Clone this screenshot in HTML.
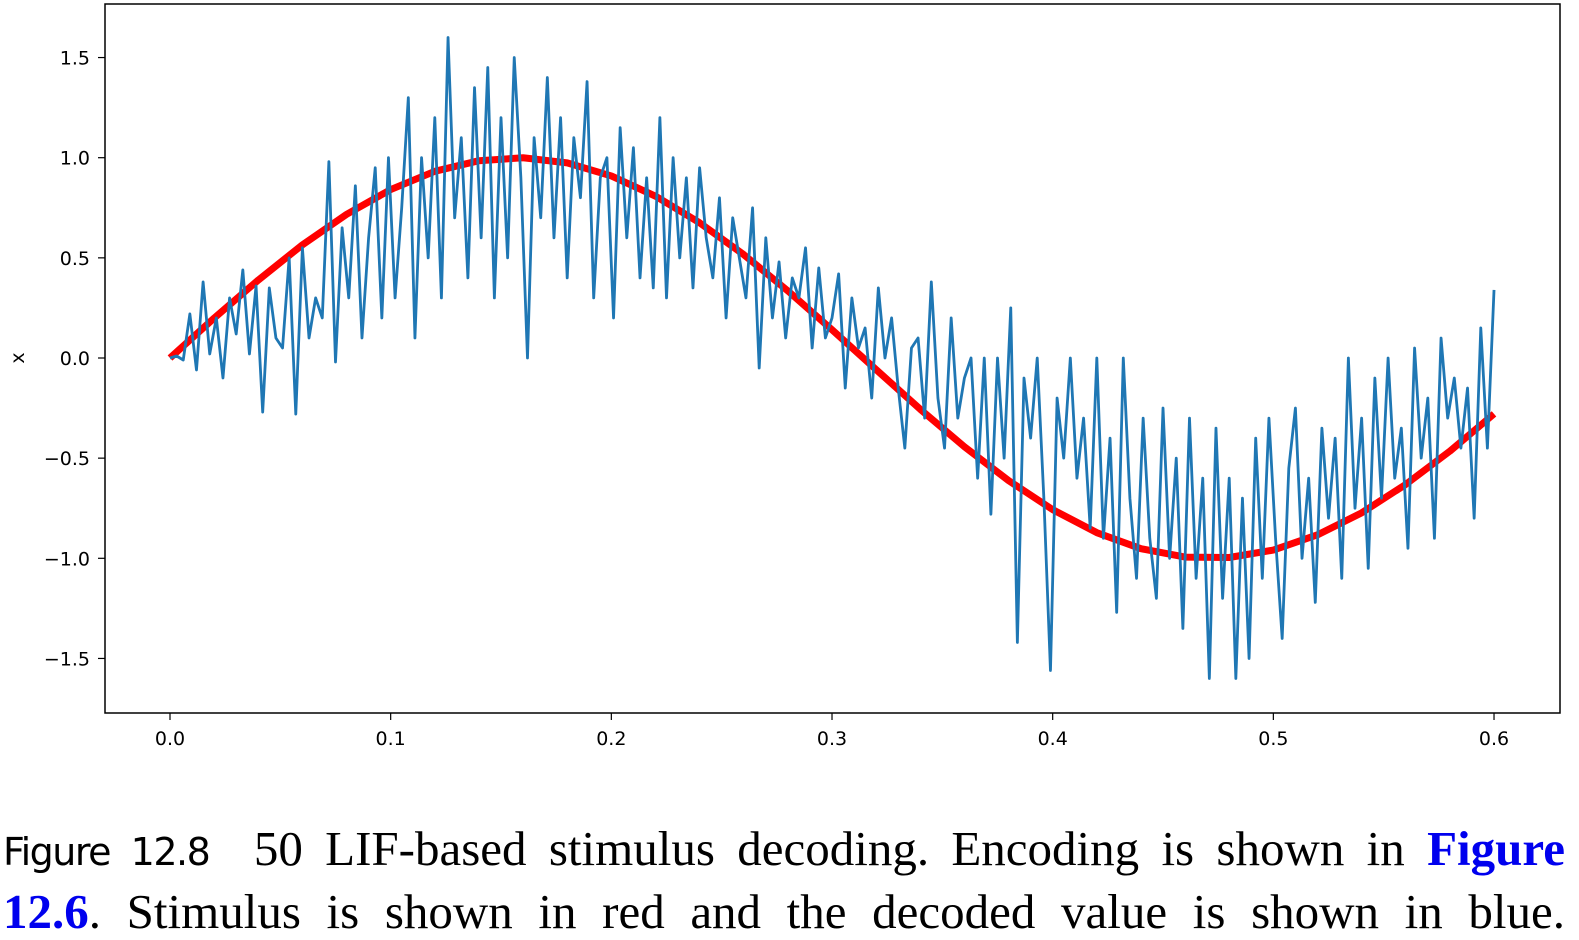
<!DOCTYPE html>
<html><head><meta charset="utf-8"><style>
body{margin:0;background:#fff;width:1579px;height:940px;overflow:hidden;position:relative}
svg{position:absolute;left:0;top:0}
.cap{position:absolute;left:3px;width:1562px;font-family:"Liberation Serif",serif;font-size:49px;color:#000;white-space:nowrap;text-align:justify;text-align-last:justify;line-height:1}
.fig{font-family:"DejaVu Sans","Liberation Sans",sans-serif;font-size:38px;letter-spacing:-1.5px}
.blue{color:#0000ee;font-weight:bold}
</style></head><body>
<svg id="chart" width="1579" height="790"></svg>
<div class="cap" style="top:824px"><span class="fig">Figure 12.8</span>&nbsp; 50 LIF-based stimulus decoding. Encoding is shown in <span class="blue">Figure</span></div>
<div class="cap" style="top:887px"><span class="blue">12.6</span>. Stimulus is shown in red and the decoded value is shown in blue.</div>
<script>
const xTicks=[0.0,0.1,0.2,0.3,0.4,0.5,0.6];
const xTickLabels=["0.0","0.1","0.2","0.3","0.4","0.5","0.6"];
const yTicks=[1.5,1.0,0.5,0.0,-0.5,-1.0,-1.5];
const yTickLabels=["1.5","1.0","0.5","0.0","\u22120.5","\u22121.0","\u22121.5"];
const stimT=[0,.02,.04,.06,.08,.10,.12,.14,.16,.18,.20,.22,.24,.26,.28,.30,.32,.34,.36,.38,.40,.42,.44,.46,.48,.50,.52,.54,.56,.58,.60];
const stimV=[0,.199,.389,.565,.717,.841,.932,.985,.9996,.974,.909,.808,.675,.516,.335,.141,-.058,-.256,-.443,-.612,-.757,-.872,-.952,-.994,-.996,-.959,-.883,-.773,-.631,-.465,-.279];
const decodedDt=0.003;
const decodedV=[0,0.01,-0.01,0.22,-0.06,0.38,0.02,0.2,-0.1,0.3,
0.12,0.44,0.02,0.36,-0.27,0.35,0.1,0.05,0.5,-0.28,
0.55,0.1,0.3,0.2,0.98,-0.02,0.65,0.3,0.86,0.1,
0.6,0.95,0.2,1.0,0.3,0.75,1.3,0.1,1.0,0.5,
1.2,0.3,1.6,0.7,1.1,0.4,1.35,0.6,1.45,0.3,
1.2,0.5,1.5,0.9,0.0,1.1,0.7,1.4,0.6,1.2,
0.4,1.1,0.8,1.38,0.3,0.9,1.0,0.2,1.15,0.6,
1.05,0.4,0.9,0.35,1.2,0.3,1.0,0.5,0.9,0.35,
0.95,0.6,0.4,0.8,0.2,0.7,0.5,0.3,0.75,-0.05,
0.6,0.2,0.48,0.1,0.4,0.3,0.55,0.05,0.45,0.1,
0.2,0.42,-0.15,0.3,0.05,0.15,-0.2,0.35,0.0,0.2,
-0.15,-0.45,0.05,0.1,-0.3,0.38,-0.2,-0.45,0.2,-0.3,
-0.1,0.0,-0.6,0.0,-0.78,0.0,-0.5,0.25,-1.42,-0.1,
-0.4,0.0,-0.7,-1.56,-0.2,-0.5,0.0,-0.6,-0.3,-0.85,
0.0,-0.9,-0.4,-1.27,0.0,-0.7,-1.1,-0.3,-0.9,-1.2,
-0.25,-1.0,-0.5,-1.35,-0.3,-1.1,-0.6,-1.6,-0.35,-1.2,
-0.6,-1.6,-0.7,-1.5,-0.4,-1.1,-0.3,-0.9,-1.4,-0.55,
-0.25,-1.0,-0.6,-1.22,-0.35,-0.8,-0.4,-1.1,0.0,-0.75,
-0.3,-1.05,-0.1,-0.7,0.0,-0.6,-0.35,-0.95,0.05,-0.5,
-0.2,-0.9,0.1,-0.3,-0.1,-0.45,-0.15,-0.8,0.15,-0.45,
0.34];

const NS="http://www.w3.org/2000/svg";
const svg=document.getElementById('chart');
const X=v=>170+v*2206.7;
const Y=v=>358-v*200.3;
function mk(tag,attrs){const e=document.createElementNS(NS,tag);for(const k in attrs)e.setAttribute(k,attrs[k]);svg.appendChild(e);return e;}
const font='font-family:"DejaVu Sans","Liberation Sans",sans-serif;font-size:19px';
xTicks.forEach((t,i)=>{
 const l=mk('line',{x1:X(t),x2:X(t),y1:713,y2:720,stroke:'#000','stroke-width':1.2});
 
 
 const tx=mk('text',{x:X(t),y:745,'text-anchor':'middle',style:font});
 tx.textContent=xTickLabels[i];
 
 
});
yTicks.forEach((t,i)=>{
 const l=mk('line',{x1:98,x2:105,y1:Y(t),y2:Y(t),stroke:'#000','stroke-width':1.2});
 
 
 const tx=mk('text',{x:90,y:Y(t)+7,'text-anchor':'end',style:font});
 tx.textContent=yTickLabels[i];
 
 
});
const yl=mk('text',{x:0,y:0,transform:'translate(24,358) rotate(-90)','text-anchor':'middle',style:font});
yl.textContent='x';


const red=mk('polyline',{points:stimT.map((t,i)=>X(t)+','+Y(stimV[i])).join(' '),fill:'none',stroke:'#ff0000','stroke-width':7,'stroke-linejoin':'round'});


const blue=mk('polyline',{points:decodedV.map((v,i)=>X(i*decodedDt)+','+Y(v)).join(' '),fill:'none',stroke:'#1f77b4','stroke-width':2.8,'stroke-linejoin':'round'});


const fr=mk('rect',{x:105,y:4,width:1455,height:709,fill:'none',stroke:'#000','stroke-width':1.5});


</script>
</body></html>
